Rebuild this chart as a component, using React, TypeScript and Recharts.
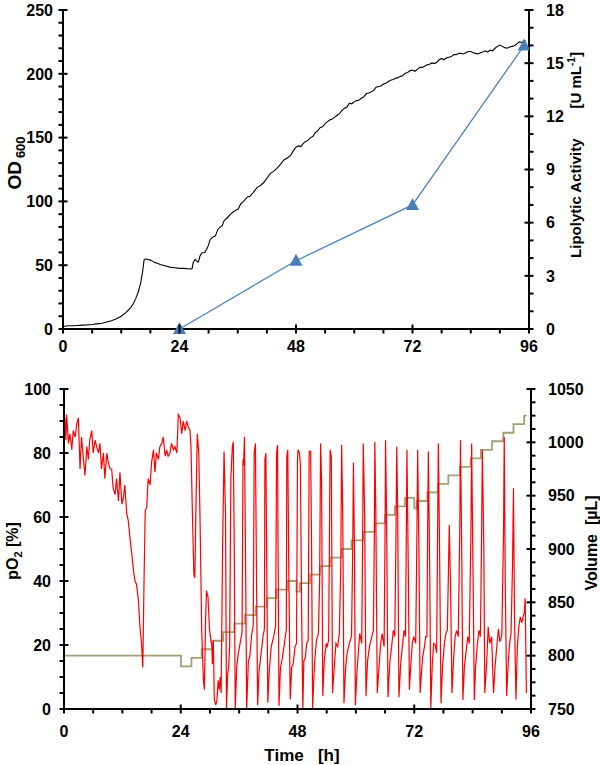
import React from "react";
import { ComposedChart, Line, XAxis, YAxis } from "recharts";

// ---- data ----
// OD600 over time [h, OD]
const odPoints: [number, number][] = [
  [0, 2], [1, 2.5], [2, 2.5], [3, 2.8], [4, 3], [5, 3.2], [6, 3.5], [7, 4], [8, 4.5], [9, 5.5],
  [10, 6.5], [11, 8], [12, 10], [13, 13], [14, 17], [14.5, 20], [15, 24], [15.5, 29], [16, 36],
  [16.4, 45], [16.7, 54], [17, 55], [17.5, 54.5], [18, 54], [18.5, 53], [19, 52], [19.5, 51.5],
  [20, 50.5], [21, 49.5], [22, 48.5], [23, 48], [24, 47.5], [25, 47.5], [26, 47], [26.6, 47.3],
  [26.8, 52], [27.2, 54.5], [27.6, 53], [27.9, 52.5], [28.2, 57], [28.6, 59.5], [29.2, 60],
  [29.8, 64], [30.3, 70], [30.8, 72], [31.4, 73], [31.9, 78], [32.4, 80], [32.8, 81], [33.2, 85],
  [33.8, 87], [34.5, 90], [35, 91.5], [35.6, 93], [36.1, 94], [36.6, 98], [37.2, 100], [38, 103.5],
  [38.5, 104], [39, 106], [39.5, 108.5], [40, 111], [40.7, 112.5], [41.4, 115], [42, 118],
  [42.7, 122], [43.4, 123.5], [44.1, 126], [44.8, 129], [45.5, 132.5], [46.2, 134], [46.9, 136],
  [47.5, 140], [48, 142.5], [48.5, 143.5], [49, 143], [49.5, 145.5], [50, 147], [50.5, 148],
  [51, 150], [51.5, 151], [52, 154], [52.5, 155.5], [53, 158], [53.5, 158.5], [54, 161],
  [54.5, 162.5], [55, 164], [55.5, 164.5], [56, 166], [56.5, 167.5], [57, 169], [57.5, 171.5],
  [58, 173], [58.5, 174], [59, 177], [59.5, 176.5], [60, 178], [60.5, 179], [61, 179.5],
  [61.5, 181], [62, 182], [62.5, 184.5], [63, 185], [63.5, 186], [64, 187], [64.5, 189.5],
  [65, 190], [65.5, 190.5], [66, 192], [66.5, 192.5], [67, 194], [67.5, 195], [68, 195.5],
  [68.5, 196.5], [69, 197], [69.5, 198], [70, 198.5], [70.5, 200.5], [71, 201], [71.5, 202.5],
  [72, 203], [72.5, 202], [73, 203.5], [73.5, 205], [74, 205], [74.5, 206], [75, 207],
  [75.5, 207.5], [76, 208.5], [76.5, 208], [77, 209], [77.5, 211], [78, 212], [78.5, 211],
  [79, 212.5], [79.5, 213], [80, 213.5], [80.5, 215], [81, 215], [81.5, 216], [82, 216],
  [82.5, 215.5], [83, 216.5], [83.5, 217.5], [84, 217.5], [84.5, 216.5], [85, 216], [85.5, 215.5],
  [86, 216.5], [86.5, 217], [87, 218], [87.5, 217], [88, 218.5], [88.5, 218], [89, 220],
  [89.5, 221.5], [90, 222.5], [90.5, 221.5], [91, 220.5], [91.5, 220], [92, 221], [92.5, 221.5],
  [93, 222], [93.5, 223.5], [94, 225], [94.5, 224.5], [95, 225.5], [95.3, 226],
];

// lipolytic activity [h], [U/mL]
const activityHours = [24, 48, 72, 95];
const activityValues = [0, 3.85, 7.0, 16.0];

// dissolved oxygen pO2 [h, %]
const po2Points: [number, number][] = [
  [0, 86], [0.2, 91], [0.4, 84], [0.55, 92], [0.9, 83], [1.2, 86], [1.6, 81], [1.9, 87], [2.3, 85],
  [2.6, 89], [2.95, 91], [3.3, 75], [3.6, 85], [4.0, 78], [4.3, 73], [4.7, 82], [5.0, 78], [5.3, 84],
  [5.7, 87], [6.0, 80], [6.4, 84], [6.7, 82], [7.1, 80], [7.4, 83], [7.7, 75], [8.1, 80], [8.4, 72],
  [8.8, 80], [9.1, 77], [9.5, 75], [9.8, 75], [10.1, 69], [10.5, 67], [10.8, 72], [11.2, 65],
  [11.5, 74], [11.9, 64], [12.2, 66], [12.5, 70], [12.9, 61], [13.2, 59], [13.6, 53], [13.9, 49],
  [14.3, 43], [14.6, 40], [14.9, 39], [15.3, 34], [15.6, 26], [15.96, 20], [16.2, 13], [16.45, 40],
  [16.7, 62], [17.0, 63], [17.3, 72], [17.7, 70], [18.0, 77], [18.4, 81], [18.7, 74], [19.0, 80],
  [19.4, 78], [19.7, 82], [20.1, 83], [20.4, 85], [20.8, 79], [21.1, 81], [21.4, 79], [21.8, 80],
  [22.1, 83], [22.5, 81], [22.8, 82], [23.2, 80], [23.5, 92], [23.84, 91], [24.2, 86], [24.5, 90],
  [24.9, 87], [25.2, 90], [25.56, 88], [25.9, 87], [26.1, 82], [26.4, 61], [26.7, 42], [26.9, 41],
  [27.1, 61], [27.4, 86], [27.7, 80], [27.95, 61], [28.3, 25], [28.65, 9], [28.85, 6], [29.1, 28],
  [29.3, 37], [29.6, 35], [29.9, 25], [30.2, 21.5], [30.4, 19.5], [30.5, 14], [30.7, 21.5],
  [30.9, 3], [31.2, 1.2], [31.45, 3], [31.7, 9], [31.9, 6], [32.1, 10], [32.3, 5], [32.6, 50],
  [32.9, 80.5], [33.2, 61], [33.4, 0], [33.65, 11], [33.85, 13], [34.05, 19.5], [34.3, 72],
  [34.6, 82], [34.8, 83.5], [35.0, 50], [35.2, 0], [35.5, 13], [35.8, 17], [36.2, 20.5], [36.6, 24],
  [36.8, 78], [36.9, 76], [37.1, 85], [37.3, 50], [37.55, 0], [37.9, 15], [38.2, 16.4], [38.6, 23.6],
  [38.9, 26], [39.1, 80], [39.35, 83], [39.55, 45], [39.8, 1.2], [40.1, 12], [40.5, 17], [40.9, 22.6],
  [41.2, 25], [41.3, 78], [41.5, 80], [41.7, 40], [41.9, 2], [42.2, 12], [42.6, 19.5], [43.1, 22.6],
  [43.5, 26], [43.7, 80], [43.9, 82.5], [44.0, 50], [44.2, 1], [44.5, 13], [44.9, 16], [45.4, 21.5],
  [45.7, 25], [45.8, 79], [46.0, 81], [46.2, 45], [46.5, 3], [46.8, 13], [47.1, 14], [47.5, 19.5],
  [47.8, 20.5], [48.0, 78], [48.1, 81], [48.4, 80], [48.6, 76], [48.85, 30], [49.1, 0], [49.3, 15],
  [49.6, 16], [49.9, 20.5], [50.2, 21.5], [50.4, 80.5], [50.7, 80.5], [50.9, 50.7], [51.1, 0],
  [51.4, 11], [51.6, 16], [51.9, 21.5], [52.3, 23.6], [52.55, 40], [52.75, 83], [52.95, 71.6],
  [53.2, 4], [53.5, 15], [53.9, 20.5], [54.1, 19.5], [54.4, 21.5], [54.55, 50], [54.7, 81],
  [54.95, 79], [55.2, 5], [55.6, 14], [55.9, 20.5], [56.25, 19.5], [56.6, 23.6], [56.9, 45],
  [57.07, 82.5], [57.3, 61], [57.55, 1.8], [57.9, 13], [58.2, 17.5], [58.65, 20.5], [59.1, 22.6],
  [59.35, 50], [59.5, 77], [59.7, 50.7], [59.9, 1.2], [60.2, 11], [60.5, 17.5], [60.8, 23.6],
  [61.2, 20.5], [61.4, 55], [61.52, 83], [61.8, 61], [62.08, 4], [62.4, 15], [62.8, 19.5],
  [63.1, 21.5], [63.6, 24.6], [63.8, 55], [63.9, 83.5], [64.1, 61], [64.4, 5], [64.75, 13],
  [65.1, 20.5], [65.4, 23.6], [65.8, 19.5], [66.0, 55], [66.1, 84], [66.3, 61], [66.6, 3.7],
  [67.0, 15], [67.35, 19.5], [67.7, 24.6], [68.0, 22.6], [68.25, 55], [68.4, 82], [68.6, 61],
  [68.85, 3.7], [69.2, 14], [69.55, 19.5], [69.9, 24.6], [70.2, 22.6], [70.4, 60], [70.5, 81],
  [70.8, 40], [71.0, 6], [71.3, 14], [71.6, 20.5], [71.9, 22.6], [72.3, 20.5], [72.55, 55],
  [72.7, 81], [72.95, 50.7], [73.2, 5], [73.7, 16], [74.1, 19.5], [74.35, 22.6], [74.6, 22.6],
  [74.75, 55], [74.9, 80.5], [75.2, 40], [75.4, 0], [75.7, 14], [76.0, 20.5], [76.3, 20],
  [76.6, 17.5], [76.8, 55], [76.95, 83], [77.2, 50.7], [77.5, 1.8], [77.8, 13], [78.2, 20.5],
  [78.5, 23.6], [78.8, 24.6], [79.05, 45], [79.2, 57.5], [79.5, 35], [79.75, 5], [80.1, 16],
  [80.4, 22.6], [80.7, 24.6], [81.05, 22.6], [81.35, 55], [81.5, 84], [81.75, 50.7], [82.0, 2.8],
  [82.3, 13], [82.7, 18.5], [83.0, 22.6], [83.3, 20.5], [83.65, 55], [83.8, 83], [84.1, 40],
  [84.35, 2.8], [84.6, 13], [85.0, 20.5], [85.3, 24.6], [85.6, 22.6], [85.85, 55], [86.0, 81],
  [86.3, 50.7], [86.5, 5], [86.9, 15], [87.2, 25.7], [87.5, 20.5], [87.9, 22.6], [88.3, 5],
  [88.6, 13], [89.0, 20], [89.3, 25], [89.6, 21], [90.0, 23], [90.35, 55], [90.5, 85], [90.7, 40],
  [91.0, 4], [91.3, 14], [91.6, 20.5], [91.9, 23.6], [92.2, 45], [92.4, 69], [92.6, 30], [92.9, 3],
  [93.2, 19.5], [93.5, 25.7], [93.8, 28.8], [94.1, 27], [94.4, 29], [94.6, 30], [94.8, 34.6],
  [95.05, 5],
];

// culture volume, step changes [h, µL]
const volumeSteps: [number, number][] = [
  [0, 800], [24.05, 790], [26.2, 798], [28.3, 806], [30.5, 814], [32.7, 822], [35.0, 830],
  [37.2, 838], [39.4, 846], [41.7, 854], [43.7, 862], [46.0, 870], [47.8, 860], [48.5, 868],
  [50.6, 876], [52.6, 884], [54.7, 892], [57.1, 900], [59.1, 908], [61.5, 916], [63.9, 924],
  [66.0, 932], [68.0, 940], [70.1, 948], [72.0, 938], [72.5, 945], [74.7, 953], [76.9, 961],
  [79.0, 969], [81.4, 977], [83.6, 985], [85.7, 993], [88.0, 1001], [90.3, 1009], [92.4, 1017],
  [94.6, 1025], [95.1, 1025],
];

const timeTicks = [0, 6, 12, 18, 24, 30, 36, 42, 48, 54, 60, 66, 72, 78, 84, 90, 96];
const odTicks = Array.from({ length: 26 }, (_, i) => i * 10);
const actTicks = Array.from({ length: 19 }, (_, i) => i);
const po2Ticks = Array.from({ length: 21 }, (_, i) => i * 5);
const volTicks = Array.from({ length: 25 }, (_, i) => 750 + i * 12.5);

const od = odPoints.map(([t, v]) => ({ t, v }));
const activity = activityHours.map((t, i) => ({ t, v: activityValues[i] }));
const po2 = po2Points.map(([t, v]) => ({ t, v }));
const volume = volumeSteps.map(([t, v]) => ({ t, v }));

const FONT = "'Liberation Sans', Arial, Helvetica, sans-serif";
const tickText = { fontFamily: FONT, fontWeight: 700, fontSize: 16, fill: "#000" } as const;

const xTick = (labelDy: number) => (p: any) => {
  const v = p.payload.value;
  const major = v % 24 === 0;
  return (
    <g key={`x${v}`}>
      <line x1={p.x} x2={p.x} y1={major ? p.y - 4.5 : p.y} y2={p.y + 4.5} stroke="#000" strokeWidth={2} />
      {major && (
        <text x={p.x} y={p.y + labelDy} textAnchor="middle" style={tickText}>{v}</text>
      )}
    </g>
  );
};

const yTick = (side: "left" | "right", every: number, gap: number) => (p: any) => {
  const v = p.payload.value;
  const major = Math.abs(v / every - Math.round(v / every)) < 1e-6;
  const s = side === "left" ? -1 : 1;
  const label = Number.isInteger(v) ? String(v) : "";
  return (
    <g key={`y${v}`}>
      <line
        x1={major ? p.x - s * 4.5 : p.x}
        x2={p.x + s * 4.5}
        y1={p.y}
        y2={p.y}
        stroke="#000"
        strokeWidth={2}
      />
      {major && (
        <text x={p.x + s * gap} y={p.y + 5.8} textAnchor={side === "left" ? "end" : "start"} style={tickText}>
          {label}
        </text>
      )}
    </g>
  );
};

const triangle = (p: any) => (
  <polygon
    key={`tri${p.index}`}
    points={`${p.cx},${p.cy - 7} ${p.cx - 6.5},${p.cy + 5} ${p.cx + 6.5},${p.cy + 5}`}
    fill="#4a7ebb"
  />
);

const axisLine = { stroke: "#000", strokeWidth: 2 };

export default function App() {
  const title = { fontFamily: FONT, fontWeight: 700, fill: "#000" } as const;
  return (
    <div style={{ position: "absolute", left: 0, top: 0, width: 600, height: 765, background: "#fff" }}>
      <div style={{ position: "absolute", left: 0, top: 0 }}>
        <ComposedChart width={600} height={360} margin={{ top: 10, right: 0, bottom: 0, left: 0 }}>
          <XAxis
            type="number"
            dataKey="t"
            domain={[0, 96]}
            ticks={timeTicks}
            interval={0}
            height={31}
            tickSize={0}
            tickMargin={0}
            tickLine={false}
            axisLine={axisLine}
            tick={xTick(23)}
            allowDataOverflow
          />
          <YAxis
            yAxisId="od"
            type="number"
            domain={[0, 250]}
            ticks={odTicks}
            interval={0}
            width={63}
            tickSize={0}
            tickMargin={0}
            tickLine={false}
            axisLine={axisLine}
            tick={yTick("left", 50, 10)}
          />
          <YAxis
            yAxisId="act"
            orientation="right"
            type="number"
            domain={[0, 18]}
            ticks={actTicks}
            interval={0}
            width={71}
            tickSize={0}
            tickMargin={0}
            tickLine={false}
            axisLine={axisLine}
            tick={yTick("right", 3, 17)}
          />
          <Line yAxisId="od" data={od} dataKey="v" type="linear" stroke="#000" strokeWidth={1.1} dot={false} isAnimationActive={false} />
          <Line yAxisId="act" data={activity} dataKey="v" type="linear" stroke="#4f81bd" strokeWidth={1.3} dot={triangle} isAnimationActive={false} />
        </ComposedChart>
      </div>
      <div style={{ position: "absolute", left: 0, top: 360 }}>
        <ComposedChart width={600} height={405} margin={{ top: 29, right: 0, bottom: 0, left: 0 }}>
          <XAxis
            type="number"
            dataKey="t"
            domain={[0, 96]}
            ticks={timeTicks}
            interval={0}
            height={56}
            tickSize={0}
            tickMargin={0}
            tickLine={false}
            axisLine={axisLine}
            tick={xTick(28)}
            allowDataOverflow
          />
          <YAxis
            yAxisId="po2"
            type="number"
            domain={[0, 100]}
            ticks={po2Ticks}
            interval={0}
            width={64}
            tickSize={0}
            tickMargin={0}
            tickLine={false}
            axisLine={axisLine}
            tick={yTick("left", 20, 13)}
          />
          <YAxis
            yAxisId="vol"
            orientation="right"
            type="number"
            domain={[750, 1050]}
            ticks={volTicks}
            interval={0}
            width={69}
            tickSize={0}
            tickMargin={0}
            tickLine={false}
            axisLine={axisLine}
            tick={yTick("right", 50, 17)}
          />
          <Line yAxisId="vol" data={volume} dataKey="v" type="stepAfter" stroke="#a39d78" strokeWidth={1.8} dot={false} isAnimationActive={false} />
          <Line yAxisId="po2" data={po2} dataKey="v" type="linear" stroke="#ff0000" strokeWidth={1.2} dot={false} isAnimationActive={false} />
        </ComposedChart>
      </div>
      <svg width={600} height={765} style={{ position: "absolute", left: 0, top: 0, pointerEvents: "none" }}>
        <text transform="translate(21,163) rotate(-90)" textAnchor="middle" style={{ ...title, fontSize: 19 }}>
          OD<tspan dx={3} dy={4} fontSize={13}>600</tspan>
        </text>
        <text transform="translate(581,155) rotate(-90)" textAnchor="middle" style={{ ...title, fontSize: 15 }}>
          Lipolytic Activity<tspan dx={30}>[U mL</tspan><tspan dy={-6} fontSize={10}>-1</tspan><tspan dy={6}>]</tspan>
        </text>
        <text transform="translate(18,551) rotate(-90)" textAnchor="middle" style={{ ...title, fontSize: 16 }}>
          pO<tspan dy={4} fontSize={11}>2</tspan><tspan dy={-4}> [%]</tspan>
        </text>
        <text transform="translate(597,543) rotate(-90)" textAnchor="middle" style={{ ...title, fontSize: 16 }}>
          Volume{"\u00a0\u00a0"}[µL]
        </text>
        <text x={302} y={761} textAnchor="middle" style={{ ...title, fontSize: 17 }}>
          Time{"\u00a0\u00a0\u00a0"}[h]
        </text>
      </svg>
    </div>
  );
}
